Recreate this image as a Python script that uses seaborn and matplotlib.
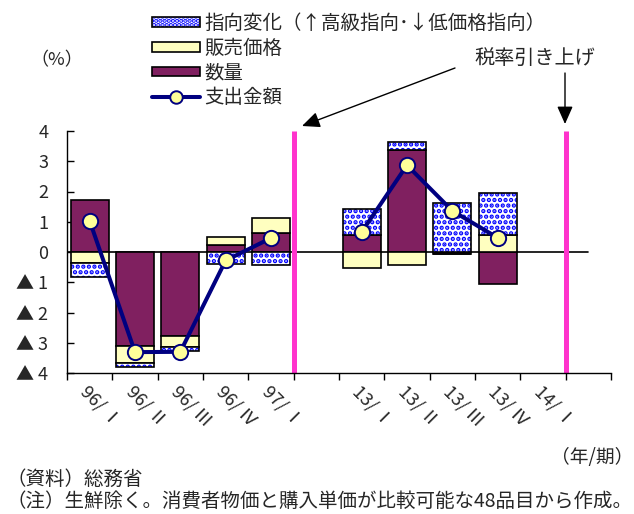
import numpy as np
import pandas as pd
import seaborn as sns
import matplotlib.pyplot as plt
from matplotlib.patches import Patch
from matplotlib.lines import Line2D
from matplotlib.legend_handler import HandlerTuple

# Quarterly contributions (%), year-on-year
quarters = ['96/ Ⅰ', '96/ Ⅱ', '96/ Ⅲ', '96/ Ⅳ', '97/ Ⅰ', '',
            '13/ Ⅰ', '13/ Ⅱ', '13/ Ⅲ', '13/ Ⅳ', '14/ Ⅰ', '']
period = ['1996', '1996', '1996', '1996', '1996', '',
          '2013', '2013', '2013', '2013', '', '']
quantity = [1.71, -3.11, -2.78, 0.23, 0.63, np.nan,
            0.55, 3.38, -0.05, -1.07, np.nan, np.nan]
sales_price = [-0.38, -0.55, -0.37, 0.27, 0.51, np.nan,
               -0.52, -0.44, -0.03, 0.55, np.nan, np.nan]
preference_shift = [-0.45, -0.14, -0.13, -0.41, -0.44, np.nan,
                    0.88, 0.26, 1.63, 1.39, np.nan, np.nan]
spending = [1.03, -3.31, -3.30, -0.28, 0.46, np.nan,
            0.66, 2.87, 1.36, 0.47, np.nan, np.nan]
tax_hike_after = ['97/ Ⅰ', '14/ Ⅰ']

y_ticks = [4, 3, 2, 1, 0, -1, -2, -3, -4]
y_labels = ['4', '3', '2', '1', '0', '▲ 1', '▲ 2', '▲ 3', '▲ 4']

MAROON = '#802060'
CREAM = '#FFFFC0'
PATTERN_BLUE = '#0000FF'
NAVY = '#000080'
MARKER_FACE = '#FFFF99'
PINK = '#FF33CC'

sns.set_theme(style='white')
plt.rcParams['font.family'] = ['Noto Sans CJK JP', 'DejaVu Sans']
plt.rcParams['hatch.linewidth'] = 2.2

df = pd.DataFrame({
    'quarter': quarters,
    'period': period,
    'quantity': quantity,
    'sales_price': sales_price,
    'preference_shift': preference_shift,
    'spending': spending,
})
df['pos'] = np.arange(len(df))

fig = plt.figure(figsize=(6.34, 5.14), dpi=100)
ax = fig.add_axes([67 / 634, 1 - 373 / 514, 544 / 634, 242 / 514])

# Stacked bars: positives stack upward, negatives downward, same order
pos_base = np.zeros(len(df))
neg_base = np.zeros(len(df))
width = 0.84
for col, color, hatched in [('quantity', MAROON, False),
                            ('sales_price', CREAM, False),
                            ('preference_shift', 'white', True)]:
    vals = df[col].to_numpy()
    ok = ~np.isnan(vals)
    v = np.where(ok, vals, 0.0)
    bottom = np.where(v >= 0, pos_base, neg_base)
    x = df['pos'].to_numpy()[ok]
    if hatched:
        ax.bar(x, v[ok], width=width, bottom=bottom[ok], color='white',
               edgecolor=PATTERN_BLUE, hatch='...', linewidth=0, zorder=2)
        ax.bar(x, v[ok], width=width, bottom=bottom[ok], color='none',
               edgecolor='black', linewidth=1.2, zorder=2.1)
    else:
        ax.bar(x, v[ok], width=width, bottom=bottom[ok], color=color,
               edgecolor='black', linewidth=1.2, zorder=2)
    pos_base = np.where(v >= 0, pos_base + v, pos_base)
    neg_base = np.where(v < 0, neg_base + v, neg_base)

# Zero line
ax.plot([-0.5, 11.0], [0, 0], color='black', lw=1.2, zorder=1.5)

# Tax-rate hike markers
for q in tax_hike_after:
    xp = quarters.index(q) + 0.5
    ax.plot([xp, xp], [-4, 4], color=PINK, lw=3.6, zorder=1.8,
            solid_capstyle='butt', clip_on=False)

# Total spending line
line_df = df.dropna(subset=['spending'])
sns.lineplot(data=line_df, x='pos', y='spending', units='period',
             estimator=None, color=NAVY, lw=2.9, marker='o', markersize=11,
             markerfacecolor=MARKER_FACE, markeredgecolor=NAVY,
             markeredgewidth=1.4, legend=False, ax=ax, zorder=4)

ax.set_xlim(-0.5, 11.5)
ax.set_ylim(-4, 4)
ax.set_xlabel('')
ax.set_ylabel('')
for s in ['top', 'right']:
    ax.spines[s].set_visible(False)
for s in ['left', 'bottom']:
    ax.spines[s].set_color('black')
    ax.spines[s].set_linewidth(1.0)

ax.set_yticks(y_ticks)
ax.set_yticklabels(y_labels, fontsize=13)
ax.tick_params(axis='y', direction='in', length=5, width=1, color='black',
               pad=13.5, left=True)

ax.set_xticks(df['pos'])
ax.set_xticklabels(quarters, fontsize=13, rotation=-45, ha='left',
                   va='top', rotation_mode='anchor')
ax.set_xticks(np.arange(-0.5, 12, 1.0), minor=True)
ax.tick_params(axis='x', which='major', length=0, pad=7)
ax.tick_params(axis='x', which='minor', direction='out', length=5, width=1,
               color='black', bottom=True)

# Legend
h_shift = (Patch(facecolor='white', edgecolor=PATTERN_BLUE, hatch='....',
                 linewidth=0),
           Patch(facecolor='none', edgecolor='black', linewidth=1.2))
h_price = Patch(facecolor=CREAM, edgecolor='black', linewidth=1.2)
h_qty = Patch(facecolor=MAROON, edgecolor='black', linewidth=1.2)
h_spend = Line2D([], [], color=NAVY, lw=2.9, marker='o', markersize=9,
                 markerfacecolor=MARKER_FACE, markeredgecolor=NAVY,
                 markeredgewidth=1.4)
fig.legend([h_shift, h_price, h_qty, h_spend],
           ['指向変化（↑高級指向･↓低価格指向）', '販売価格', '数量', '支出金額'],
           loc='upper left', bbox_to_anchor=(152 / 634, 1 - 13 / 514),
           frameon=False, fontsize=14, handlelength=2.45, handleheight=0.4,
           labelspacing=0.19, handletextpad=0.25, borderpad=0,
           borderaxespad=0,
           handler_map={tuple: HandlerTuple(ndivide=1, pad=0)})

# Annotations
fig.text(57 / 634, 1 - 60 / 514, '（%）', fontsize=13, ha='center',
         va='center')
fig.text(535 / 634, 1 - 58 / 514, '税率引き上げ', fontsize=14.5, ha='center',
         va='center')
arrow = dict(arrowstyle='-|>,head_length=0.9,head_width=0.4',
             color='black', lw=1.0, shrinkA=0, shrinkB=0)
ax.annotate('', xy=(302, 514 - 126), xytext=(455, 514 - 68),
            xycoords='figure pixels', textcoords='figure pixels',
            arrowprops=arrow)
ax.annotate('', xy=(565, 514 - 124), xytext=(565, 514 - 73),
            xycoords='figure pixels', textcoords='figure pixels',
            arrowprops=arrow)

fig.text(633 / 634, 1 - 458 / 514, '（年/期）', fontsize=13.5, ha='right',
         va='center')
fig.text(6 / 634, 1 - 479 / 514, '（資料）総務省', fontsize=14, ha='left',
         va='center')
fig.text(6 / 634, 1 - 501 / 514,
         '（注）生鮮除く。消費者物価と購入単価が比較可能な48品目から作成。',
         fontsize=14, ha='left', va='center')

fig.savefig('out.png', dpi=100)
